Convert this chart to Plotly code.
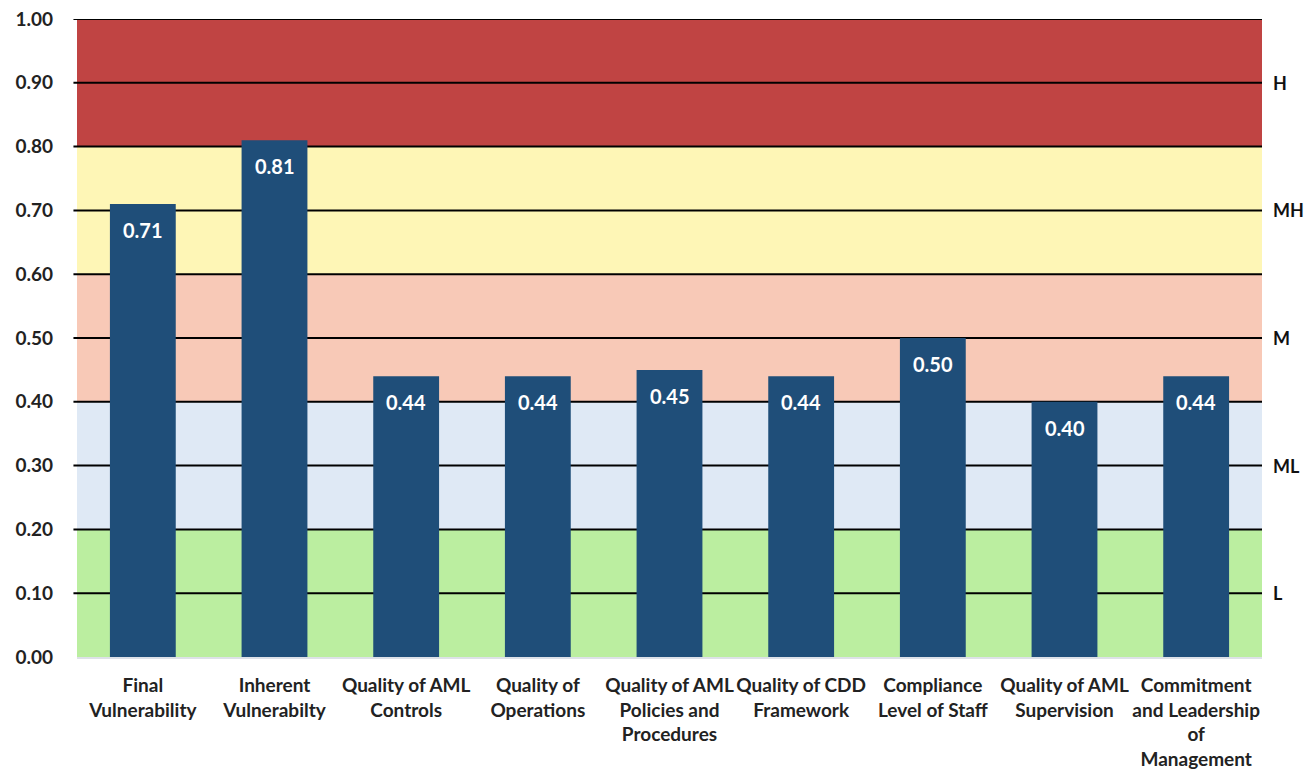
import plotly.graph_objects as go

categories = ["Final<br>Vulnerability", "Inherent<br>Vulnerabilty", "Quality of AML<br>Controls",
              "Quality of<br>Operations", "Quality of AML<br>Policies and<br>Procedures",
              "Quality of CDD<br>Framework", "Compliance<br>Level of Staff",
              "Quality of AML<br>Supervision", "Commitment<br>and Leadership<br>of<br>Management"]
values = [0.71, 0.81, 0.44, 0.44, 0.45, 0.44, 0.50, 0.40, 0.44]

band_low = [0.0, 0.2, 0.4, 0.6, 0.8]
band_high = [0.2, 0.4, 0.6, 0.8, 1.0]
band_colors = ["#bbeea0", "#dfe9f5", "#f8c9b7", "#fef6b6", "#c04443"]
zone_labels = ["L", "ML", "M", "MH", "H"]
zone_pos = [0.1, 0.3, 0.5, 0.7, 0.9]
grid_vals = [0.1, 0.2, 0.3, 0.4, 0.5, 0.6, 0.7, 0.8, 0.9, 1.0]

FONT = "Lato, 'Open Sans', sans-serif"

fig = go.Figure()
fig.add_trace(go.Bar(
    x=categories, y=values, marker=dict(color="#1f4e79", line=dict(width=0)),
    hoverinfo="x+y",
))

for cat, v in zip(categories, values):
    fig.add_annotation(x=cat, y=v, xref="x", yref="y", text=f"{v:.2f}", showarrow=False,
                       yanchor="middle", yshift=-26,
                       font=dict(color="white", size=20, family=FONT, weight="bold"))

for lo, hi, c in zip(band_low, band_high, band_colors):
    fig.add_shape(type="rect", xref="paper", yref="y", x0=0, x1=1, y0=lo, y1=hi,
                  fillcolor=c, line=dict(width=0), layer="below")
for g in grid_vals:
    fig.add_shape(type="line", xref="paper", yref="y", x0=-0.003, x1=1, y0=g, y1=g,
                  line=dict(color="black", width=2), layer="between")

for lab, p in zip(zone_labels, zone_pos):
    fig.add_annotation(x=1, xref="paper", y=p, yref="y", text=lab, showarrow=False,
                       xanchor="left", xshift=9, font=dict(size=18, color="#111", family=FONT, weight="bold"))

fig.update_layout(
    width=1315, height=774,
    margin=dict(l=77, r=53, t=19, b=117),
    plot_bgcolor="white", paper_bgcolor="white",
    bargap=0.5, showlegend=False,
    font=dict(family=FONT),
)
fig.update_yaxes(range=[0, 1.0], tickvals=[0, 0.1, 0.2, 0.3, 0.4, 0.5, 0.6, 0.7, 0.8, 0.9, 1.0],
                 tickformat=".2f", showgrid=False, zeroline=False, ticks="",
                 ticklabelstandoff=23, automargin=False,
                 tickfont=dict(size=19, color="#222", family=FONT, weight="bold"))
fig.update_xaxes(showgrid=False, showline=True, linecolor="#dde1e8", linewidth=2, ticks="",
                 ticklabelstandoff=10, automargin=False,
                 tickfont=dict(size=19, color="#222", family=FONT, weight="bold"))

fig.write_html("out.html")
